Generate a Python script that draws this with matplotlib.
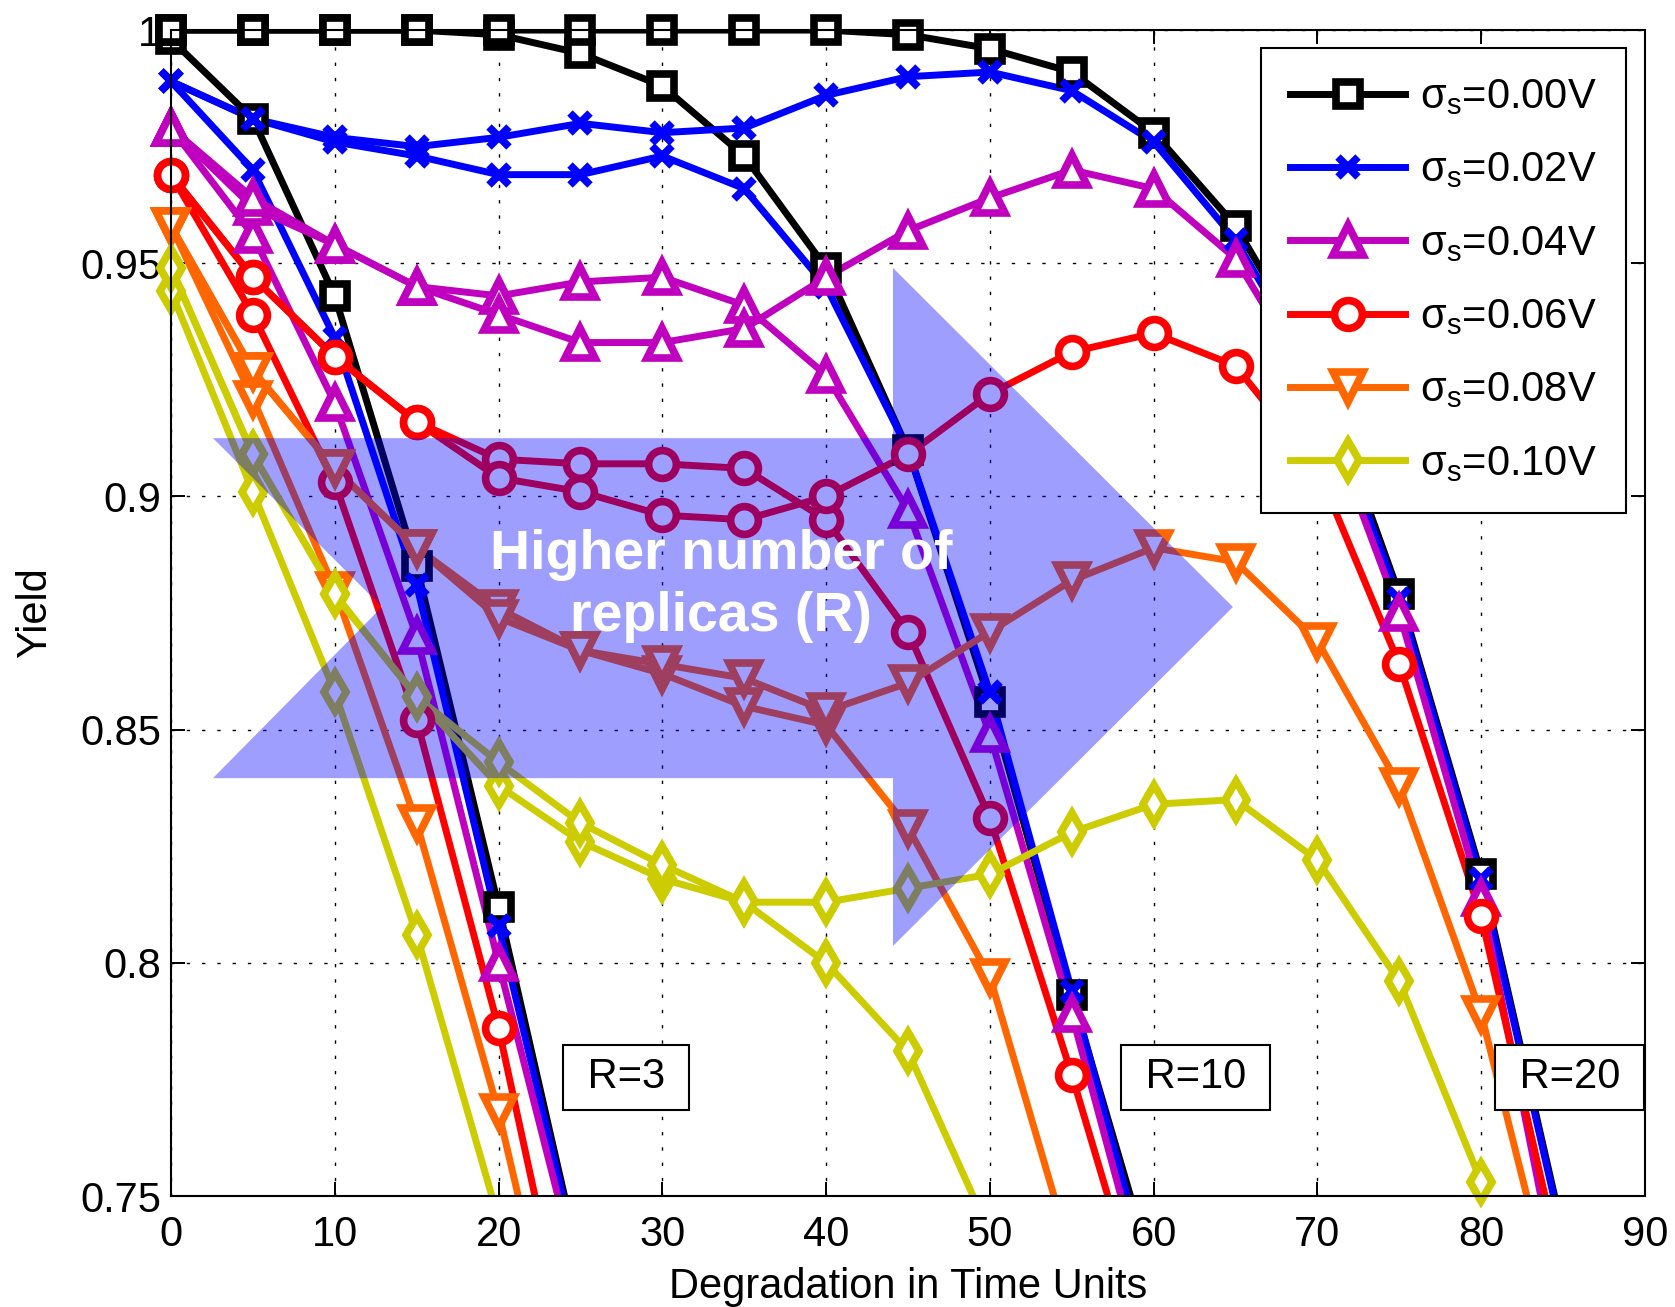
import numpy as np
import matplotlib.pyplot as plt
from matplotlib.lines import Line2D
from matplotlib.patches import Polygon

plt.rcParams['font.family'] = ['Liberation Sans', 'DejaVu Sans']
plt.rcParams['mathtext.fontset'] = 'custom'
plt.rcParams['mathtext.rm'] = 'Liberation Sans'
plt.rcParams['mathtext.it'] = 'Liberation Sans:italic'

# 横轴: 退化时间
x_r3 = [0, 5, 10, 15, 20, 25]
x_r10 = [0, 5, 10, 15, 20, 25, 30, 35, 40, 45, 50, 55, 60]
x_r20 = [0, 5, 10, 15, 20, 25, 30, 35, 40, 45, 50, 55, 60, 65, 70, 75, 80, 85]

# R=3
r3_s00 = [0.998, 0.981, 0.943, 0.885, 0.812, 0.735]
r3_s02 = [0.989, 0.970, 0.934, 0.881, 0.808, 0.734]
r3_s04 = [0.979, 0.956, 0.920, 0.870, 0.800, 0.731]
r3_s06 = [0.969, 0.939, 0.903, 0.852, 0.786, 0.705]
r3_s08 = [0.958, 0.921, 0.880, 0.830, 0.768, 0.693]
r3_s10 = [0.944, 0.901, 0.858, 0.806, 0.745, 0.680]

# R=10
r10_s00 = [1.000, 1.000, 1.000, 1.000, 0.999, 0.995, 0.988, 0.973, 0.949, 0.910, 0.856, 0.793, 0.733]
r10_s02 = [0.989, 0.981, 0.976, 0.973, 0.969, 0.969, 0.973, 0.966, 0.945, 0.910, 0.858, 0.794, 0.729]
r10_s04 = [0.979, 0.962, 0.954, 0.945, 0.943, 0.946, 0.947, 0.941, 0.926, 0.897, 0.849, 0.789, 0.724]
r10_s06 = [0.969, 0.947, 0.930, 0.916, 0.908, 0.907, 0.907, 0.906, 0.895, 0.871, 0.831, 0.776, 0.717]
r10_s08 = [0.958, 0.927, 0.906, 0.889, 0.876, 0.867, 0.862, 0.855, 0.851, 0.829, 0.797, 0.737]
r10_s10 = [0.949, 0.909, 0.879, 0.857, 0.838, 0.826, 0.818, 0.813, 0.800, 0.781, 0.742]

# R=20
r20_s00 = [1.000, 1.000, 1.000, 1.000, 1.000, 1.000, 1.000, 1.000, 1.000, 0.999, 0.996, 0.991,
           0.978, 0.958, 0.928, 0.879, 0.819, 0.742]
r20_s02 = [0.989, 0.981, 0.977, 0.975, 0.977, 0.980, 0.978, 0.979, 0.986, 0.990, 0.991, 0.987,
           0.976, 0.955, 0.925, 0.878, 0.818, 0.741]
r20_s04 = [0.979, 0.964, 0.954, 0.945, 0.939, 0.933, 0.933, 0.936, 0.947, 0.957, 0.964, 0.970,
           0.966, 0.951, 0.922, 0.875, 0.814, 0.726]
r20_s06 = [0.969, 0.947, 0.930, 0.916, 0.904, 0.901, 0.896, 0.895, 0.900, 0.909, 0.922, 0.931,
           0.935, 0.928, 0.906, 0.864, 0.810, 0.733]
r20_s08 = [0.958, 0.927, 0.906, 0.889, 0.874, 0.867, 0.864, 0.861, 0.854, 0.860, 0.871, 0.882,
           0.889, 0.886, 0.869, 0.838, 0.789, 0.719]
r20_s10 = [0.949, 0.909, 0.879, 0.857, 0.843, 0.830, 0.821, 0.813, 0.813, 0.816, 0.819, 0.828,
           0.834, 0.835, 0.822, 0.796, 0.753, 0.690]

sigma_labels = ['0.00', '0.02', '0.04', '0.06', '0.08', '0.10']
colors = ['#000000', '#0000ff', '#bf00bf', '#ff0000', '#ff6600', '#cccc00']
markers = ['s', 'x', '^', 'o', 'v', 'd']
msizes = [17, 15, 22, 20, 22, 19]

groups = [
    (x_r3, [r3_s00, r3_s02, r3_s04, r3_s06, r3_s08, r3_s10]),
    (x_r10, [r10_s00, r10_s02, r10_s04, r10_s06, r10_s08, r10_s10]),
    (x_r20, [r20_s00, r20_s02, r20_s04, r20_s06, r20_s08, r20_s10]),
]

# R 标注
r_labels = ['R=3', 'R=10', 'R=20']
r_label_x = [27.8, 62.55, 85.4]
r_label_y = 0.7755

# 箭头 (注释形状)
arrow_x = [2.56, 44.08, 44.08, 64.84, 44.08, 44.08, 2.56, 12.88]
arrow_y = [0.9125, 0.9125, 0.9490, 0.8763, 0.8036, 0.8396, 0.8396, 0.8763]

yticks = [0.75, 0.8, 0.85, 0.9, 0.95, 1.0]
ytick_labels = ['0.75', '0.8', '0.85', '0.9', '0.95', '1']
xticks = [0, 10, 20, 30, 40, 50, 60, 70, 80, 90]

lw = 5
mew = 5.5
fs = 30

fig = plt.figure(figsize=(16.75, 13.07), dpi=100)
ax = fig.add_axes([0.1021, 0.0849, 0.88, 0.8921])

for xs, series in groups:
    for y, c, m, ms in zip(series, colors, markers, msizes):
        y = np.array(y)
        x = np.array(xs[:len(y)])
        ax.plot(x, y, color=c, lw=lw, zorder=2)
        # 标记不裁剪(与原图一致), 只画坐标范围内的点
        keep = y >= 0.75
        ax.plot(x[keep], y[keep], linestyle='none', marker=m, ms=ms, mew=mew,
                mec=c, mfc='white', clip_on=False, zorder=2.5)

# 半透明箭头
ax.add_patch(Polygon(np.column_stack([arrow_x, arrow_y]), closed=True,
                     facecolor='#0000ff', edgecolor='none', alpha=0.38, zorder=3))
ax.text(33.6, 0.8808, 'Higher number of\nreplicas (R)', color='white', fontsize=40,
        fontweight='bold', ha='center', va='center', linespacing=1.25, zorder=4)

for lab, xr in zip(r_labels, r_label_x):
    ax.text(xr, r_label_y, ' ' + lab + ' ', fontsize=fs, ha='center', va='center', zorder=6,
            bbox=dict(boxstyle='square,pad=0.3', facecolor='white', edgecolor='black', linewidth=1.5))

handles = [Line2D([], [], color=c, lw=lw, marker=m, ms=ms, mew=mew, mec=c, mfc='white')
           for c, m, ms in zip(colors, markers, msizes)]
labels = [r'$\mathrm{\sigma_s}$=' + s + 'V' for s in sigma_labels]
leg = ax.legend(handles, labels, loc='upper right', bbox_to_anchor=(0.987, 0.9846),
                borderaxespad=0, fontsize=fs, handlelength=2.75, handletextpad=0.36,
                borderpad=0.7, labelspacing=0.8, fancybox=False, framealpha=1,
                edgecolor='black', numpoints=1)
leg.get_frame().set_linewidth(1.5)
leg.set_zorder(7)

ax.set_xlim(0, 90)
ax.set_ylim(0.75, 1.0)
ax.set_xticks(xticks)
ax.set_yticks(yticks)
ax.set_yticklabels(ytick_labels)
ax.tick_params(direction='in', top=True, right=True, length=10, width=1.4, labelsize=fs)
ax.tick_params(axis='x', pad=14)
ax.tick_params(axis='y', pad=7)
for sp in ax.spines.values():
    sp.set_linewidth(1.5)
ax.set_axisbelow(True)
ax.grid(True, color='black', linestyle=(0, (2.4, 8.6)), linewidth=1.0)

ax.set_xlabel('Degradation in Time Units', fontsize=fs, labelpad=8)
ax.set_ylabel('Yield', fontsize=fs, labelpad=18)

fig.savefig('out.png', dpi=100)
